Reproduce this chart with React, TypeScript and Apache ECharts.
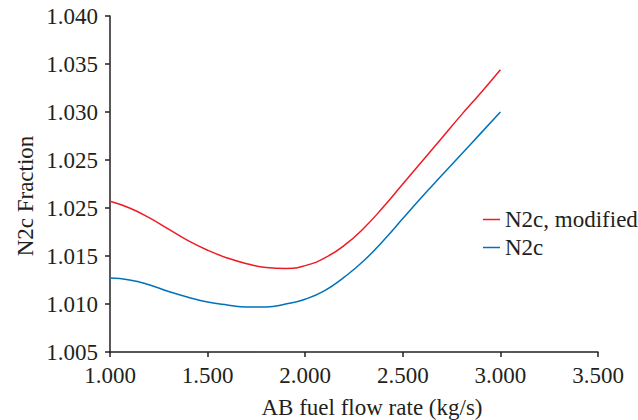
import React, { useEffect, useRef } from "react";
import * as echarts from "echarts";

const xValues = [1.0, 1.1, 1.2, 1.3, 1.4, 1.5, 1.6, 1.7, 1.8, 1.9, 2.0, 2.1, 2.2, 2.3, 2.4, 2.5, 2.6, 2.7, 2.8, 2.9, 3.0];
const modifiedValues = [1.0207, 1.02, 1.019, 1.0178, 1.0166, 1.0156, 1.0148, 1.0142, 1.0138, 1.0137, 1.014, 1.0148, 1.0161, 1.0179, 1.0201, 1.0225, 1.0249, 1.0273, 1.0297, 1.032, 1.0344];
const baseValues = [1.0127, 1.0125, 1.012, 1.0113, 1.0107, 1.0102, 1.0099, 1.0097, 1.0097, 1.01, 1.0105, 1.0114, 1.0128, 1.0145, 1.0166, 1.0189, 1.0212, 1.0234, 1.0256, 1.0278, 1.03];
const yTickLabels = ["1.005", "1.010", "1.015", "1.025", "1.025", "1.030", "1.035", "1.040"];
const seriesNames = ["N2c, modified", "N2c"];
const xTitle = "AB fuel flow rate (kg/s)";
const yTitle = "N2c Fraction";

const FONT = "serif";
const INK = "#231f20";

export default function App() {
  const ref = useRef<HTMLDivElement>(null);
  useEffect(() => {
    if (!ref.current) return;
    const chart = echarts.init(ref.current, undefined, { renderer: "svg" });
    chart.setOption({
      animation: false,
      backgroundColor: "#ffffff",
      textStyle: { fontFamily: FONT },
      grid: { left: 110, right: 40, top: 16, bottom: 68, containLabel: false },
      legend: {
        orient: "vertical",
        left: 478,
        top: 203,
        itemGap: 5,
        itemWidth: 17,
        itemHeight: 1.5,
        icon: "rect",
        textStyle: { fontFamily: FONT, fontSize: 23, color: INK },
        data: seriesNames,
      },
      xAxis: {
        type: "value",
        min: 1,
        max: 3.5,
        interval: 0.5,
        axisLine: { lineStyle: { color: INK, width: 1.5 } },
        axisTick: { show: true, length: 5, lineStyle: { color: INK, width: 1.5 } },
        splitLine: { show: false },
        axisLabel: {
          margin: 12,
          fontFamily: FONT,
          fontSize: 23,
          color: INK,
          formatter: (v: number) => v.toFixed(3),
        },
      },
      yAxis: {
        type: "value",
        min: 1.005,
        max: 1.04,
        interval: 0.005,
        axisLine: { show: true, lineStyle: { color: INK, width: 1.5 } },
        axisTick: { show: true, length: 5, lineStyle: { color: INK, width: 1.5 } },
        splitLine: { show: false },
        axisLabel: {
          margin: 12,
          fontFamily: FONT,
          fontSize: 23,
          color: INK,
          formatter: (v: number) => {
            const i = Math.round((v - 1.005) / 0.005);
            return yTickLabels[i] ?? v.toFixed(3);
          },
        },
      },
      graphic: [
        {
          type: "text",
          x: 372,
          y: 407,
          style: {
            text: xTitle,
            fontFamily: FONT,
            fontSize: 23,
            fill: INK,
            textAlign: "center",
            textVerticalAlign: "middle",
          },
        },
        {
          type: "text",
          x: 25,
          y: 196,
          rotation: Math.PI / 2,
          style: {
            text: yTitle,
            fontFamily: FONT,
            fontSize: 23,
            fill: INK,
            textAlign: "center",
            textVerticalAlign: "middle",
          },
        },
      ],
      series: [
        {
          name: seriesNames[0],
          type: "line",
          smooth: 0.5,
          showSymbol: false,
          color: "#ed1c24",
          lineStyle: { width: 1.5, color: "#ed1c24" },
          data: xValues.map((x, i) => [x, modifiedValues[i]]),
        },
        {
          name: seriesNames[1],
          type: "line",
          smooth: 0.5,
          showSymbol: false,
          color: "#0072bc",
          lineStyle: { width: 1.5, color: "#0072bc" },
          data: xValues.map((x, i) => [x, baseValues[i]]),
        },
      ],
    });
    return () => chart.dispose();
  }, []);
  return (
    <div
      ref={ref}
      style={{ position: "fixed", left: 0, top: 0, width: 638, height: 420, background: "#fff" }}
    />
  );
}
